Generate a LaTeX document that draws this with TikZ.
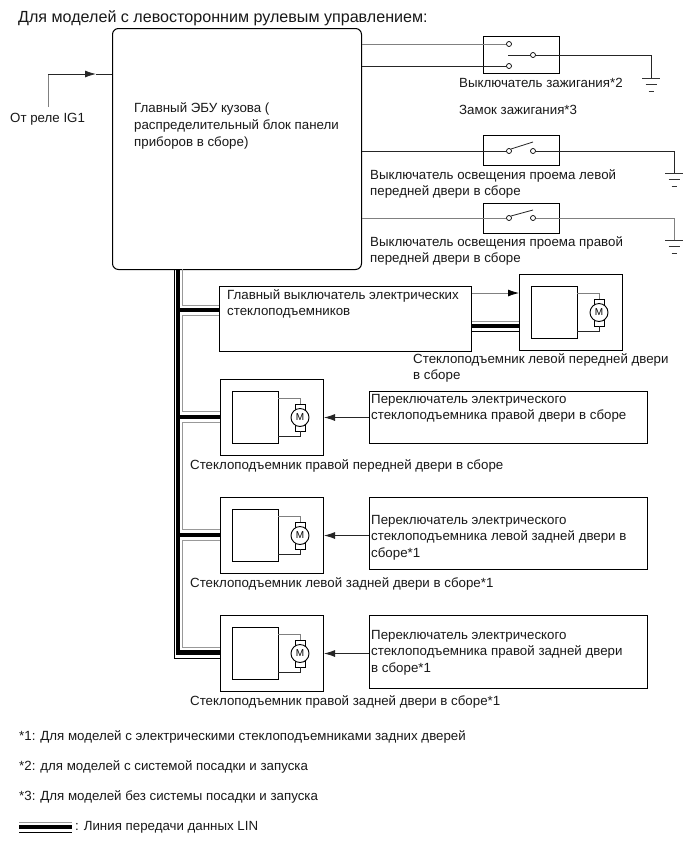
\documentclass[tikz,border=0pt]{standalone}
\usepackage{fontspec}
\setmainfont{Liberation Sans}
\usetikzlibrary{arrows.meta}
\tikzset{
  x=1pt,y=-1pt,
  wire/.style={line width=0.8pt,black!85},
  gwire/.style={line width=0.8pt,black!50},
  boxn/.style={draw=black,line width=1pt,inner sep=0pt,anchor=north west},
  lbl/.style={inner sep=0pt,anchor=north west,align=left,font=\fontsize{13.3}{16.4}\selectfont,text=black!90},
  contact/.style={circle,draw=black,line width=0.7pt,fill=white,inner sep=0pt,minimum size=5pt},
  motor/.style={circle,draw=black,line width=0.9pt,fill=white,inner sep=0pt,minimum size=18pt,font=\fontsize{10}{10}\selectfont},
  brush/.style={draw=black,line width=0.8pt,fill=white,inner sep=0pt,minimum width=10pt,minimum height=6pt},
  sig/.style={line width=0.8pt,black!85,-{Latex[length=11pt,width=7pt]}},
  gnd/.style={line width=0.7pt,black!80},
  busthick/.style={line width=4.2pt,black},
  busgray/.style={line width=1pt,black!40},
  busthin/.style={line width=1pt,black},
}
\newcommand{\gndsym}[3]{% x y name
  \coordinate (#3) at (#1,#2);
  \draw[gnd] (#1-9,#2) -- (#1+9,#2) (#1-5.5,#2+6.5) -- (#1+5.5,#2+6.5) (#1-2.5,#2+13) -- (#1+2.5,#2+13);
}
\newcommand{\winlift}[3]{% name, left x, top y
  \node[boxn,minimum width=103pt,minimum height=76pt] (#1) at (#2,#3) {};
  \node[boxn,minimum width=46pt,minimum height=52pt] (#1i) at (#2+12,#3+12) {};
  \node[brush] (#1bt) at (#2+80,#3+28) {};
  \node[brush] (#1bb) at (#2+80,#3+49) {};
  \node[motor] (#1m) at (#2+80,#3+38.5) {M};
  \coordinate (#1a) at (#2+58,#3+19);
  \coordinate (#1b) at (#2+58,#3+57);
  \draw[gwire] (#1a) -| (#1bt.north);
  \draw[wire] (#1b) -| (#1bb.south);
}
\begin{document}
\begin{tikzpicture}
\useasboundingbox (0,0) rectangle (691,855);
\fill[white] (0,0) rectangle (691,855);

\node[lbl,font=\fontsize{16.1}{18}\selectfont] (title) at (18,10) {Для моделей с левосторонним рулевым управлением:};

% ECU
\node[boxn,rounded corners=6pt,minimum width=249pt,minimum height=241pt] (ecu) at (112,28) {};
\node[lbl,font=\fontsize{13.3}{17}\selectfont] (ecut) at (134,102) {Главный ЭБУ кузова (\\распределительный блок панели\\приборов в сборе)};

\node[lbl] (ig) at (10,113) {От реле IG1};
\coordinate (igs) at (48,107);
\coordinate (igm) at (96,74);
\draw[gwire] (igs) -- (igs |- igm);
\draw[sig] (igs |- igm) -- (igm);
\draw[wire] (igm) -- (ecu.west |- igm);

% Ignition switch
\node[boxn,minimum width=76pt,minimum height=37pt] (sw1) at (483,36) {};
\node[contact] (c1a) at (509,44) {};
\node[contact] (c1b) at (509,66) {};
\node[contact] (c1c) at (533,55) {};
\coordinate (c1l) at (508,55);
\draw[wire] (c1l) -- (c1c);
\draw[gwire] (ecu.east |- c1a) -- (c1a);
\draw[wire] (ecu.east |- c1b) -- (c1b);
\gndsym{651}{78}{g1}
\draw[wire] (c1c) -| (g1);
\node[lbl] (l1) at (459,78) {Выключатель зажигания*2};
\node[lbl] (l1b) at (459,105) {Замок зажигания*3};

% Switch 2
\node[boxn,minimum width=76pt,minimum height=30pt] (sw2) at (483,135) {};
\node[contact] (c2a) at (509,151) {};
\node[contact] (c2b) at (533,151) {};
\coordinate (c2t) at (533,142);
\draw[wire] (c2a.north east) -- (c2t);
\draw[wire] (ecu.east |- c2a) -- (c2a);
\gndsym{674}{173}{g2}
\draw[wire] (c2b) -| (g2);
\node[lbl] (l2) at (370,169) {Выключатель освещения проема левой\\передней двери в сборе};

% Switch 3
\node[boxn,minimum width=76pt,minimum height=30pt] (sw3) at (483,203) {};
\node[contact] (c3a) at (509,218) {};
\node[contact] (c3b) at (533,218) {};
\coordinate (c3t) at (533,210);
\draw[wire] (c3a.north east) -- (c3t);
\draw[gwire] (ecu.east |- c3a) -- (c3a);
\gndsym{674}{240}{g3}
\draw[gwire] (c3b) -| (g3);
\node[lbl] (l3) at (370,236.5) {Выключатель освещения проема правой\\передней двери в сборе};

% Main switch
\node[boxn,minimum width=252pt,minimum height=65pt] (ms) at (219,286) {};
\node[lbl] (mst) at (227,289.5) {Главный выключатель электрических\\стеклоподъемников};

% Motors
\winlift{wl}{519}{274}
\winlift{wr}{220}{379}
\winlift{wb}{220}{497}
\winlift{wc}{220}{615}

\node[lbl] (lwl) at (413,353) {Стеклоподъемник левой передней двери\\в сборе};
\node[lbl] (lwr) at (190,459) {Стеклоподъемник правой передней двери в сборе};
\node[lbl] (lwb) at (190,577.5) {Стеклоподъемник левой задней двери в сборе*1};
\node[lbl] (lwc) at (190,695) {Стеклоподъемник правой задней двери в сборе*1};

% Switches on the right
\node[boxn,minimum width=278pt,minimum height=52pt] (pr) at (369,391) {};
\node[lbl] (prt) at (371,394) {Переключатель электрического\\стеклоподъемника правой двери в сборе};
\node[boxn,minimum width=278pt,minimum height=72pt] (pb) at (369,497) {};
\node[lbl] (pbt) at (371,515) {Переключатель электрического\\стеклоподъемника левой задней двери в\\сборе*1};
\node[boxn,minimum width=278pt,minimum height=73pt] (pc) at (369,615) {};
\node[lbl] (pct) at (371,630) {Переключатель электрического\\стеклоподъемника правой задней двери\\в сборе*1};

\draw[sig] (pr.west |- wrm) -- (wr.east |- wrm);
\draw[sig] (pb.west |- wbm) -- (wb.east |- wbm);
\draw[sig] (pc.west |- wcm) -- (wc.east |- wcm);
\draw[line width=0.8pt,black!50,-{Latex[length=11pt,width=7pt,color=black]}] (ms.east |- 0,293) -- (wl.west |- 0,293);

% LIN to left window lift
\draw[busgray] (ms.east |- 0,321) -- (wl.west |- 0,321);
\draw[busthick] (ms.east |- 0,326) -- (wl.west |- 0,326);
\draw[busthin] (ms.east |- 0,331) -- (wl.west |- 0,331);

% LIN bus
\coordinate (t1) at (178,269);
\draw[busthin] (174.5,269) |- (wc.west |- 0,658);
\draw[busgray] (182,269) |- (ms.west |- 0,305);
\draw[busgray] (ms.west |- 0,315) -| (182,411) -- (wr.west |- 0,411);
\draw[busgray] (wr.west |- 0,422) -| (182,529) -- (wb.west |- 0,529);
\draw[busgray] (wb.west |- 0,540) -| (182,647) -- (wc.west |- 0,647);
\draw[busthick] (t1) -- (178,652.5) -- (wc.west |- 0,652.5);
\draw[busthick] (178,310) -- (ms.west |- 0,310);
\draw[busthick] (178,417) -- (wr.west |- 0,417);
\draw[busthick] (178,535) -- (wb.west |- 0,535);

% Notes
\node[lbl] (n1) at (19,730.5) {*1: Для моделей с электрическими стеклоподъемниками задних дверей};
\node[lbl] (n2) at (19,760.5) {*2: для моделей с системой посадки и запуска};
\node[lbl] (n3) at (19,790.5) {*3: Для моделей без системы посадки и запуска};
\node[lbl] (n4) at (75,821) {: Линия передачи данных LIN};
\coordinate (lg1) at (19,822.5);
\coordinate (lg2) at (72,822.5);
\draw[busgray] (lg1) -- (lg2);
\draw[busthick] (19,827) -- (72,827);
\draw[busthin] (19,832) -- (72,832);
\end{tikzpicture}
\end{document}
